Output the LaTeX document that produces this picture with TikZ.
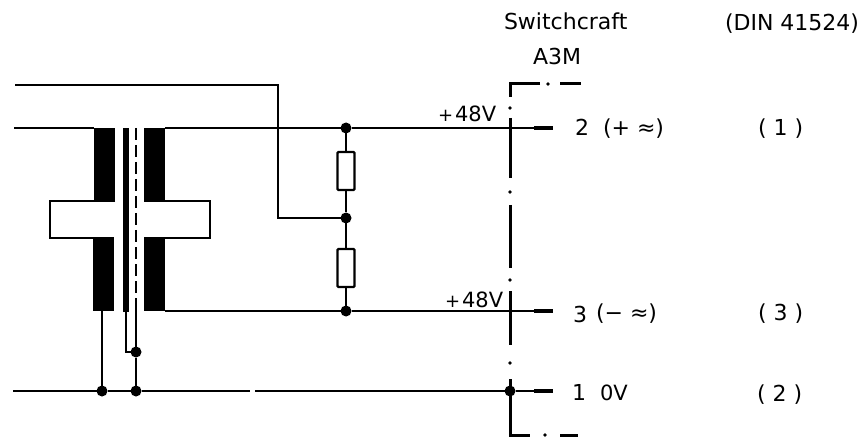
\documentclass[tikz,border=0pt]{standalone}
\usepackage{fontspec}
\setmainfont{DejaVu Sans}
\begin{document}
\begin{tikzpicture}[x=1pt,y=-1pt,line width=1.8pt,every node/.style={outer sep=0pt},
		coil/.style={draw=none,fill=black,inner sep=0pt,minimum width=21pt,minimum height=73pt},
		resistor/.style={draw,fill=white,line width=2.2pt,rounded corners=1pt,inner sep=0pt,minimum width=17pt,minimum height=38pt},
		junction/.style={circle,fill=black,inner sep=0pt,minimum size=11pt},
		lbl/.style={inner sep=0pt,anchor=base west,font=\fontsize{22}{22}\selectfont},
		lblsmall/.style={lbl,font=\fontsize{21}{21}\selectfont}]
	\useasboundingbox (0,0) rectangle (861,438);
	\coordinate (in1) at (15,85);
	\coordinate (in1b) at (278,85);
	\coordinate (in1c) at (278,218);
	\coordinate (in2) at (14,128);
	\coordinate (in3) at (13,391);
	\coordinate (pin2) at (553,128);
	\coordinate (pin3) at (553,311);
	\coordinate (pin1) at (553,391);
	\coordinate (stub2) at (534,128);
	\coordinate (stub3) at (534,311);
	\coordinate (stub1) at (534,391);
	\node[coil] (cu1) at (104.5,164.5) {};
	\node[coil] (cu2) at (154.5,164.5) {};
	\node[coil] (cl1) at (103.5,274.5) {};
	\node[coil] (cl2) at (154.5,274.5) {};
	\node[draw=none,fill=black,inner sep=0pt,minimum width=6pt,minimum height=184pt] (bar) at (126,220) {};
	\node[resistor] (r1) at (346,171) {};
	\node[resistor] (r2) at (346,268) {};
	\node[junction] (j1) at (346,128) {};
	\node[junction] (j2) at (346,218) {};
	\node[junction] (j3) at (346,311) {};
	\node[junction] (j4) at (102,391) {};
	\node[junction] (j5) at (136,391) {};
	\node[junction] (j6) at (136,352) {};
	\node[junction] (j7) at (510,391) {};
	\coordinate (shieldt) at (136,128);
	\coordinate (shieldb) at (136,298);
	\draw (in1) -- (in1b) -- (in1c) -- (j2);
	\draw (in2) -- (cu1.north west);
	\draw (cu2.north east) -- (j1) -- (pin2);
	\draw (cl2.south east) -- (j3) -- (pin3);
	\draw (in3) -- (j4) -- (j5) -- (250,391);
	\draw (255,391) -- (j7) -- (stub1);
	\draw (j1) -- (r1) -- (j2) -- (r2) -- (j3);
	\draw[line width=4pt] (stub2) -- (pin2);
	\draw[line width=4pt] (stub3) -- (pin3);
	\draw[line width=4pt] (stub1) -- (pin1);
	\draw (102,311) -- (j4);
	\draw (bar.south) -- (126,352) -- (j6);
	\draw (shieldb) -- (j6) -- (j5);
	\draw[dash pattern=on 12pt off 5pt,line width=2.2pt] (shieldt) -- (shieldb);
	\draw (cu1.south east) -- (50,201) -- (50,238) -- (cl1.north east);
	\draw (cu2.south west) -- (210,201) -- (210,238) -- (cl2.north west);
	\begin{scope}[line width=3pt]
		\draw (540,84) -- (510,84) -- (510,97);
		\foreach \a/\b in {118/178,205/268,291/345}{
			\draw (510,\a) -- (510,\b);
		}
		\draw (510,379) -- (510,435) -- (530,435);
		\draw (560,84) -- (581,84);
		\draw (560,435) -- (578,435);
	\end{scope}
	\foreach \xa/\ya in {548/84,510/108,510/192,510/280,510/363,545/435}{
		\fill (\xa,\ya) circle (1.8pt);
	}
	\node[lbl] (sc) at (504,30) {Switchcraft};
	\node[lbl] (din) at (725,31) {(DIN 41524)};
	\node[lbl] (a3m) at (533,65) {A3M};
	\node[lblsmall] (v1) at (438,122) {{\fontsize{18}{18}\selectfont+}\hspace{2pt}48V};
	\node[lblsmall] (v2) at (445,307) {{\fontsize{18}{18}\selectfont+}\hspace{2pt}48V};
	\node[lbl] (n2) at (575,136) {2};
	\node[lbl] (n3) at (573,322) {3};
	\node[lbl] (n1) at (572,400) {1};
	\node[lbl] (s2) at (603,136) {(+ ≈)};
	\node[lbl] (s3) at (596,320) {(− ≈)};
	\node[lblsmall] (s1) at (600,400) {0V};
	\node[lbl] (d1) at (758,136) {( 1 )};
	\node[lbl] (d3) at (758,320) {( 3 )};
	\node[lbl] (d2) at (757,401) {( 2 )};
\end{tikzpicture}
\end{document}
